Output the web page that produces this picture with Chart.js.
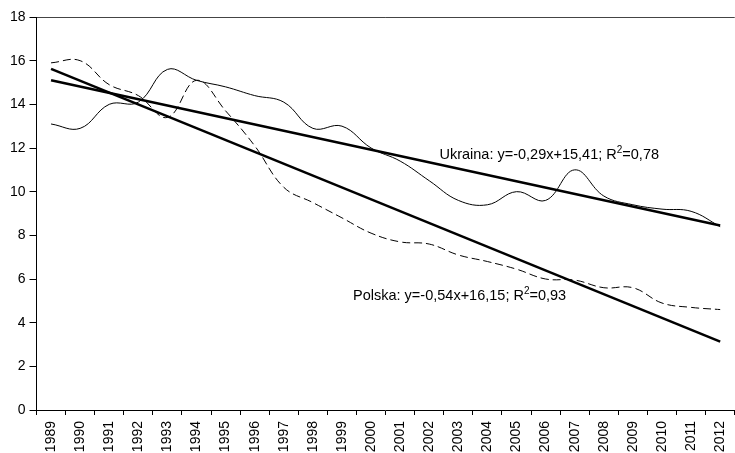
<!DOCTYPE html>
<html>
<head>
<meta charset="utf-8">
<script src="https://cdn.jsdelivr.net/npm/chart.js@4/dist/chart.umd.min.js"></script>
<style>
  html, body { margin: 0; padding: 0; background: #fff; overflow: hidden; }
  #wrap { width: 743px; height: 453px; }
</style>
</head>
<body>
<div id="wrap"><canvas id="chart" width="743" height="453"></canvas></div>
<script>
var years = ["1989", "1990", "1991", "1992", "1993", "1994", "1995", "1996", "1997", "1998", "1999", "2000",
  "2001", "2002", "2003", "2004", "2005", "2006", "2007", "2008", "2009", "2010", "2011", "2012"];

var ukraina = [13.1, 12.9, 14.0, 14.1, 15.6, 15.1, 14.8, 14.4, 14.1, 12.9, 13.0, 12.0,
  11.4, 10.5, 9.6, 9.4, 10.0, 9.6, 11.0, 9.8, 9.4, 9.2, 9.1, 8.4];

var polska = [15.9, 16.0, 14.9, 14.4, 13.4, 15.1, 13.7, 12.1, 10.2, 9.5, 8.8, 8.1,
  7.7, 7.6, 7.1, 6.8, 6.45, 6.0, 5.95, 5.6, 5.6, 4.9, 4.7, 4.6];

// trend lines: only the end points
var trendUkraina = [15.1, null, null, null, null, null, null, null, null, null, null, null,
  null, null, null, null, null, null, null, null, null, null, null, 8.45];
var trendPolska = [15.62, null, null, null, null, null, null, null, null, null, null, null,
  null, null, null, null, null, null, null, null, null, null, null, 3.13];

var yTicks = [0, 2, 4, 6, 8, 10, 12, 14, 16, 18];

var labelUkraina = { x: 13.35, y: 11.5, text: "Ukraina: y=-0,29x+15,41; R", sup: "2", tail: "=0,78" };
var labelPolska = { x: 10.38, y: 5.05, text: "Polska: y=-0,54x+16,15; R", sup: "2", tail: "=0,93" };

var fontFamily = "'Liberation Sans', Arial, sans-serif";

var equationPlugin = {
  id: "equations",
  afterDatasetsDraw: function (c) {
    var ctx = c.ctx;
    var xs = c.scales.x;
    var ys = c.scales.y;
    [labelUkraina, labelPolska].forEach(function (l) {
      var px = xs.getPixelForValue(l.x);
      var py = ys.getPixelForValue(l.y);
      ctx.save();
      ctx.fillStyle = "#000";
      ctx.textBaseline = "alphabetic";
      ctx.textAlign = "left";
      ctx.font = "14.5px " + fontFamily;
      ctx.fillText(l.text, px, py);
      px += ctx.measureText(l.text).width;
      ctx.font = "10px " + fontFamily;
      ctx.fillText(l.sup, px, py - 5.5);
      px += ctx.measureText(l.sup).width;
      ctx.font = "14.5px " + fontFamily;
      ctx.fillText(l.tail, px, py);
      ctx.restore();
    });
  }
};

var chart = new Chart(document.getElementById("chart"), {
  type: "line",
  data: {
    labels: years,
    datasets: [
      {
        label: "Ukraina",
        data: ukraina,
        borderColor: "#000",
        borderWidth: 1,
        pointRadius: 0,
        tension: 0.4,
        fill: false
      },
      {
        label: "Polska",
        data: polska,
        borderColor: "#000",
        borderWidth: 1,
        borderDash: [8, 4],
        pointRadius: 0,
        tension: 0.4,
        fill: false
      },
      {
        label: "Trend Ukraina",
        data: trendUkraina,
        borderColor: "#000",
        borderWidth: 2.5,
        pointRadius: 0,
        spanGaps: true,
        tension: 0
      },
      {
        label: "Trend Polska",
        data: trendPolska,
        borderColor: "#000",
        borderWidth: 2.5,
        pointRadius: 0,
        spanGaps: true,
        tension: 0
      }
    ]
  },
  options: {
    responsive: false,
    animation: false,
    layout: { padding: { top: 17, left: 0, right: 0, bottom: 0 } },
    plugins: {
      legend: { display: false },
      tooltip: { enabled: false }
    },
    scales: {
      x: {
        offset: true,
        grid: {
          offset: true,
          drawOnChartArea: false,
          color: "#000",
          tickColor: "#000",
          tickLength: 5
        },
        border: { color: "#000", width: 1 },
        ticks: {
          color: "#000",
          font: { size: 14, family: fontFamily },
          minRotation: 90,
          maxRotation: 90,
          padding: 6,
          autoSkip: false
        },
        afterFit: function (s) { s.height = 43; }
      },
      y: {
        min: 0,
        max: 18,
        afterBuildTicks: function (s) {
          s.ticks = yTicks.map(function (v) { return { value: v }; });
        },
        grid: {
          color: function (ctx) { return ctx.tick && ctx.tick.value === 18 ? "#444" : "rgba(0,0,0,0)"; },
          tickColor: "#000",
          tickLength: 7
        },
        border: { color: "#000", width: 1 },
        ticks: {
          color: "#000",
          font: { size: 14, family: fontFamily },
          padding: 4
        },
        afterFit: function (s) { s.width = 36.5; }
      }
    }
  },
  plugins: [equationPlugin]
});
</script>
</body>
</html>
